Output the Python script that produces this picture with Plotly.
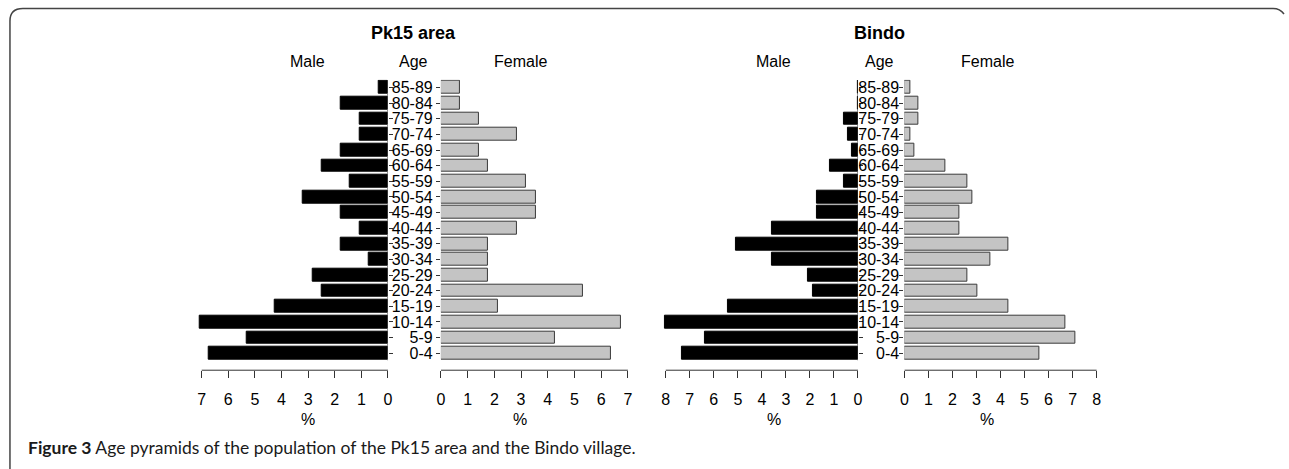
import plotly.graph_objects as go

W, H = 1289, 469

age_groups = ["0-4", "5-9", "10-14", "15-19", "20-24", "25-29", "30-34", "35-39",
              "40-44", "45-49", "50-54", "55-59", "60-64", "65-69", "70-74", "75-79",
              "80-84", "85-89"]

# Pk15 area (%)
pk15_male = [6.74, 5.32, 7.09, 4.26, 2.48, 2.84, 0.71, 1.77, 1.06, 1.77, 3.19, 1.42,
             2.48, 1.77, 1.06, 1.06, 1.77, 0.35]
pk15_female = [6.38, 4.26, 6.72, 2.13, 5.32, 1.77, 1.77, 1.77, 2.84, 3.55, 3.55, 3.19,
               1.77, 1.42, 2.84, 1.42, 0.71, 0.71]

# Bindo (%)
bindo_male = [7.31, 6.39, 8.03, 5.43, 1.89, 2.09, 3.57, 5.08, 3.57, 1.71, 1.71, 0.58,
              1.17, 0.25, 0.41, 0.58, 0.0, 0.0]
bindo_female = [5.62, 7.11, 6.72, 4.34, 3.03, 2.64, 3.57, 4.34, 2.27, 2.27, 2.82, 2.64,
                1.72, 0.41, 0.25, 0.58, 0.58, 0.25]

pk15_ticks = [0, 1, 2, 3, 4, 5, 6, 7]
bindo_ticks = [0, 1, 2, 3, 4, 5, 6, 7, 8]

ypos = list(range(len(age_groups)))

def px(x):
    return x / W

def py(y):
    return 1 - y / H

AXC = "#333333"
FONT = "Liberation Sans, Arial, sans-serif"
BAR_W = 0.82

fig = go.Figure()

fig.add_trace(go.Bar(x=pk15_male, y=ypos, orientation="h", width=BAR_W,
                     marker=dict(color="black", line=dict(color="black", width=1)),
                     xaxis="x", yaxis="y", showlegend=False))
fig.add_trace(go.Bar(x=pk15_female, y=ypos, orientation="h", width=BAR_W,
                     marker=dict(color="#c4c4c4", line=dict(color="#3a3a3a", width=1)),
                     xaxis="x2", yaxis="y2", showlegend=False))
fig.add_trace(go.Bar(x=bindo_male, y=ypos, orientation="h", width=BAR_W,
                     marker=dict(color="black", line=dict(color="black", width=1)),
                     xaxis="x3", yaxis="y3", showlegend=False))
fig.add_trace(go.Bar(x=bindo_female, y=ypos, orientation="h", width=BAR_W,
                     marker=dict(color="#c4c4c4", line=dict(color="#3a3a3a", width=1)),
                     xaxis="x4", yaxis="y4", showlegend=False))

AX_Y = 370.0   # pixel y of the x axis line
TOP_C = 86.7   # pixel center of top bar
BOT_C = 353.0  # pixel center of bottom bar
unit = (BOT_C - TOP_C) / (len(age_groups) - 1)
y_lo = -(AX_Y - BOT_C) / unit
y_hi = len(age_groups) - 0.5
top_px = TOP_C - 0.5 * unit
ydom = [py(AX_Y), py(top_px)]

panels = [
    dict(zero=386.7, ppu=26.8, rmax=7.3, dirn=-1, ticks=pk15_ticks, standoff=0),
    dict(zero=440.0, ppu=26.9, rmax=7.2, dirn=1, ticks=pk15_ticks, standoff=0),
    dict(zero=860.0, ppu=24.2, rmax=8.2, dirn=-1, ticks=bindo_ticks, standoff=0),
    dict(zero=906.7, ppu=24.2, rmax=8.1, dirn=1, ticks=bindo_ticks, standoff=-3),
]

layout = dict(
    width=W, height=H,
    margin=dict(l=0, r=0, t=0, b=0),
    paper_bgcolor="white", plot_bgcolor="white",
    font=dict(family=FONT, color="black", size=16),
    bargap=0,
    showlegend=False,
)

shapes = []
for i, p in enumerate(panels):
    n = "" if i == 0 else str(i + 1)
    far = p["zero"] + p["dirn"] * p["ppu"] * p["rmax"]
    dom = sorted([px(p["zero"]), px(far)])
    rng = [p["rmax"], 0] if p["dirn"] < 0 else [0, p["rmax"]]
    layout["xaxis" + n] = dict(
        domain=dom, range=rng, anchor="y" + n,
        tickvals=p["ticks"], ticktext=[str(t) for t in p["ticks"]],
        ticks="outside", ticklen=7, tickwidth=1, tickcolor=AXC,
        showline=False, showgrid=False, zeroline=False,
        tickfont=dict(size=16, color="black"), ticklabelstandoff=8,
        fixedrange=True,
    )
    is_female = p["dirn"] > 0
    layout["yaxis" + n] = dict(
        domain=ydom, range=[y_lo, y_hi], anchor="x" + n,
        side="left" if is_female else "right",
        tickvals=ypos, ticktext=age_groups,
        showticklabels=is_female,
        ticks="outside", ticklen=4, tickwidth=1, tickcolor=AXC,
        showline=False, showgrid=False, zeroline=False,
        tickfont=dict(size=16, color="black"),
        ticklabelstandoff=p["standoff"],
        fixedrange=True,
    )
    shapes.append(dict(type="line", xref="x" + n, yref="paper",
                       x0=min(p["ticks"]), x1=max(p["ticks"]), y0=py(AX_Y), y1=py(AX_Y),
                       line=dict(color=AXC, width=1)))
    if not is_female:
        shapes.append(dict(type="line", xref="x" + n, yref="y" + n,
                           x0=0, x1=0, y0=-0.45, y1=len(age_groups) - 0.55,
                           line=dict(color=AXC, width=1)))

frame = (f"M {px(6)},{py(469)} L {px(6)},{py(20)} Q {px(6)},{py(7.5)} {px(19)},{py(7.5)} "
         f"L {px(1278)},{py(7.5)} Q {px(1285)},{py(7.5)} {px(1289)},{py(13)}")
shapes.append(dict(type="path", xref="paper", yref="paper", path=frame,
                   line=dict(color="#444444", width=1.5)))
layout["shapes"] = shapes

def ann(text, x, y, size=16, bold=False, xanchor="center", family=FONT, color="black"):
    t = f"<b>{text}</b>" if bold else text
    return dict(text=t, x=px(x), y=py(y), xref="paper", yref="paper",
                xanchor=xanchor, yanchor="middle", showarrow=False,
                font=dict(size=size, family=family, color=color))

annotations = [
    ann("Pk15 area", 412.5, 32, size=18, bold=True),
    ann("Male", 305.5, 61), ann("Age", 412, 61), ann("Female", 520, 61),
    ann("Bindo", 882, 32, size=18, bold=True),
    ann("Male", 775, 61), ann("Age", 882, 61), ann("Female", 990, 61),
    ann("%", 306, 419), ann("%", 520, 419), ann("%", 775, 419), ann("%", 990, 419),
    ann("<b>Figure 3</b> Age pyramids of the population of the Pk15 area and the Bindo village.",
        22, 447, size=17.5, xanchor="left", family="Lato, sans-serif", color="#1a1a1a"),
]
layout["annotations"] = annotations

fig.update_layout(**layout)
fig.write_html("out.html",
               config={"displayModeBar": False},
               post_script="document.body.style.margin='0';document.body.style.overflow='hidden';")
